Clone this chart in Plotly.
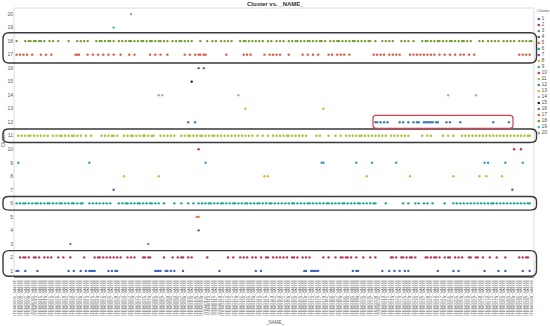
import plotly.graph_objects as go

# ---------------- data ----------------
N_NAMES = 300
names = [f"ITEM{k:04d}_VALUE" for k in range(1, N_NAMES + 1)]
clusters = list(range(1, 21))

# category positions (index into names) for every cluster
c1 = [1, 2, 6, 13, 31, 34, 38, 41, 43, 44, 45, 46, 54, 56, 58, 59, 81, 82, 83, 84, 87, 88, 90, 92, 97, 118,
      139, 142, 167, 168, 171, 172, 173, 174, 175, 195, 197, 198, 212, 216, 219, 222, 225, 227, 244, 253,
      256, 271, 279, 283, 293, 297]
c2 = [3, 5, 6, 8, 11, 12, 14, 17, 19, 21, 25, 28, 32, 40, 46, 48, 49, 51, 53, 55, 57, 59, 61, 65, 67, 69,
      74, 75, 77, 78, 86, 91, 94, 96, 97, 100, 102, 111, 123, 126, 130, 132, 134, 137, 139, 142, 145, 146,
      149, 151, 153, 155, 157, 160, 161, 163, 166, 168, 170, 178, 181, 185, 188, 189, 191, 192, 194, 197,
      201, 205, 208, 217, 218, 220, 223, 224, 226, 228, 229, 231, 237, 238, 240, 242, 243, 245, 248, 250,
      251, 254, 256, 258, 262, 263, 266, 267, 270, 274, 278, 283, 291, 293, 295, 296]
c3 = [32, 77]
c4 = [106]
c5 = [105, 106]
c6 = [1, 3, 5, 6, 8, 10, 12, 13, 15, 17, 19, 20, 22, 24, 26, 27, 29, 31, 33, 34, 36, 38, 39, 43, 45, 47,
      49, 51, 53, 55, 60, 62, 64, 65, 67, 69, 71, 72, 74, 76, 78, 79, 81, 83, 86, 92, 96, 100, 103, 106,
      108, 110, 112, 113, 115, 117, 119, 120, 122, 124, 126, 127, 129, 131, 133, 134, 136, 138, 140, 141,
      143, 145, 147, 148, 150, 152, 154, 156, 158, 160, 161, 163, 165, 167, 169, 170, 172, 174, 176, 178,
      180, 181, 183, 185, 187, 189, 190, 192, 194, 196, 198, 199, 201, 203, 205, 207, 208, 214, 224, 227,
      231, 233, 236, 238, 241, 248, 253, 255, 257, 259, 261, 263, 265, 267, 269, 271, 273, 275, 276, 278,
      280, 282, 284, 286, 288, 290, 292, 294, 296, 297]
c7 = [57, 287]
c8 = [63, 83, 144, 146, 203, 228, 253, 268, 272, 281]
c9 = [2, 43, 110, 177, 178, 197, 206, 220, 271, 273, 283, 293]
c10 = [106, 288, 292]
c11 = [2, 4, 6, 8, 9, 11, 13, 15, 17, 19, 22, 24, 26, 27, 29, 31, 33, 34, 36, 38, 41, 44, 50, 52, 54, 56,
       57, 59, 63, 65, 67, 68, 70, 72, 74, 75, 77, 79, 80, 84, 86, 88, 90, 92, 96, 98, 100, 101, 103, 105,
       107, 108, 110, 112, 114, 115, 117, 119, 121, 123, 125, 127, 129, 131, 133, 135, 137, 140, 143, 146,
       149, 151, 153, 155, 157, 158, 160, 162, 164, 166, 168, 174, 176, 181, 185, 188, 191, 193, 195, 197,
       199, 200, 202, 204, 206, 208, 210, 212, 214, 217, 219, 221, 223, 225, 227, 235, 238, 240, 247, 250,
       253, 258, 260, 262, 264, 266, 268, 270, 272, 274, 276, 278, 280, 282, 284, 286, 288, 290, 292, 294,
       296, 297]
c12 = [100, 104, 208, 209, 211, 213, 215, 222, 224, 227, 230, 232, 233, 236, 237, 238, 239, 240, 241, 243,
       244, 249, 251, 257, 276, 285]
c13 = [133, 178]
c14 = [83, 85, 129, 250, 266]
c15 = [102]
c16 = [106, 109]
c17 = [1, 3, 5, 7, 10, 15, 18, 21, 35, 36, 37, 42, 45, 48, 51, 54, 57, 61, 66, 69, 78, 81, 84, 88, 98, 101,
       104, 106, 107, 109, 110, 122, 132, 134, 136, 144, 147, 149, 151, 153, 158, 166, 169, 172, 175, 181,
       183, 186, 188, 190, 193, 207, 209, 211, 213, 216, 218, 220, 222, 228, 230, 232, 234, 236, 238, 240,
       242, 245, 248, 251, 254, 257, 259, 262, 265, 291, 293, 295, 297]
c18 = [1, 6, 8, 9, 11, 12, 14, 15, 17, 20, 22, 25, 31, 36, 38, 40, 42, 47, 49, 50, 52, 54, 55, 57, 60, 62,
       64, 66, 67, 69, 71, 73, 74, 76, 78, 79, 81, 83, 84, 86, 88, 91, 93, 95, 96, 98, 100, 102, 107, 111,
       114, 116, 119, 121, 123, 125, 130, 132, 133, 135, 137, 139, 141, 143, 146, 148, 151, 153, 155, 158,
       160, 162, 163, 165, 167, 169, 170, 172, 174, 176, 177, 179, 182, 184, 186, 187, 189, 191, 193, 195,
       196, 198, 200, 202, 204, 205, 208, 212, 214, 216, 218, 223, 225, 227, 230, 235, 237, 238, 240, 242,
       244, 245, 247, 249, 251, 252, 254, 256, 258, 259, 261, 263, 268, 270, 273, 275, 277, 279, 282, 284,
       286, 288, 291, 293, 295, 297, 298]
c19 = [57]
c20 = [67]

members = [c1, c2, c3, c4, c5, c6, c7, c8, c9, c10, c11, c12, c13, c14, c15, c16, c17, c18, c19, c20]

colors = ["#3f63c8", "#c0304a", "#5f8f7a", "#6a4c9c", "#e07b2a", "#19a68a", "#8a3fb0", "#e3b23c",
          "#3a9bc4", "#c42a6e", "#a8c22a", "#3d7fb5", "#e6b422", "#b0a8c8", "#1e1e1e", "#6b6b7b",
          "#e0553a", "#6f9a22", "#2fc2b2", "#9a9a9a"]

# ---------------- figure ----------------
W, H = 550, 326
ML, MR, MT, MB = 14, 0, 8, 49
PW = W - ML - MR
PH = H - MT - MB
XDOM = 520 / PW

fig = go.Figure()
for cl, idx, col in zip(clusters, members, colors):
    fig.add_trace(go.Scatter(
        x=[names[i] for i in idx], y=[cl] * len(idx), mode="markers",
        marker=dict(size=2.4, color=col, line=dict(width=0)),
        name=str(cl), showlegend=False, hoverinfo="x+y"))

# hand-made legend drawn on a second pair of axes
fig.add_trace(go.Scatter(
    x=[0.2] * len(clusters), y=clusters, mode="markers+text",
    text=[str(c) for c in clusters], textposition="middle right",
    textfont=dict(size=5, color="#555555", family="Liberation Sans"),
    marker=dict(size=2.6, color=colors), xaxis="x2", yaxis="y2",
    showlegend=False, hoverinfo="skip", cliponaxis=False))

def px2paper_x(px):
    return (px - ML) / PW

def px2paper_y(py):
    return (H - MB - py) / PH

fig.update_layout(
    width=W, height=H,
    margin=dict(l=ML, r=MR, t=MT, b=MB, pad=0),
    paper_bgcolor="white", plot_bgcolor="white",
    font=dict(family="Liberation Sans", color="#595959"),
    xaxis=dict(
        domain=[0, XDOM], type="category", categoryorder="array", categoryarray=names,
        range=[-0.5, N_NAMES - 0.5], tickmode="array", tickvals=names[::2], ticktext=names[::2],
        tickangle=-90, tickfont=dict(size=4.3, color="#6a6a6a"), showgrid=False, zeroline=False,
        showline=True, linecolor="#8c8c8c", linewidth=1, ticks="", automargin=False),
    yaxis=dict(
        range=[0.55, 20.45], tickmode="array", tickvals=clusters, ticktext=[str(c) for c in clusters],
        tickfont=dict(size=5, color="#595959"), showgrid=False, zeroline=False, showline=False,
        ticks="", automargin=False),
    xaxis2=dict(domain=[px2paper_x(536), 1], range=[0, 1], visible=False, fixedrange=True),
    yaxis2=dict(domain=[px2paper_y(136), px2paper_y(16)], range=[20.5, 0.5], visible=False,
                anchor="x2", fixedrange=True),
    showlegend=False,
)

annotations = [
    dict(text="<b>Cluster vs. _NAME_</b>", x=px2paper_x(275), y=px2paper_y(4), xref="paper", yref="paper",
         showarrow=False, font=dict(size=6, color="#333333"), xanchor="center", yanchor="middle"),
    dict(text="_NAME_", x=px2paper_x(275), y=px2paper_y(322), xref="paper", yref="paper",
         showarrow=False, font=dict(size=4.5, color="#595959"), xanchor="center", yanchor="middle"),
    dict(text="Cluster", x=px2paper_x(3), y=px2paper_y(140), xref="paper", yref="paper", textangle=-90,
         showarrow=False, font=dict(size=4.5, color="#595959"), xanchor="center", yanchor="middle"),
    dict(text="Cluster", x=px2paper_x(535), y=px2paper_y(10), xref="paper", yref="paper",
         showarrow=False, font=dict(size=4, color="#595959"), xanchor="left", yanchor="middle"),
]
fig.update_layout(annotations=annotations)


def rounded(x0, x1, y0, y1, rx, ry):
    return (f"M {x0 + rx},{y1} L {x1 - rx},{y1} Q {x1},{y1} {x1},{y1 - ry} "
            f"L {x1},{y0 + ry} Q {x1},{y0} {x1 - rx},{y0} L {x0 + rx},{y0} "
            f"Q {x0},{y0} {x0},{y0 + ry} L {x0},{y1 - ry} Q {x0},{y1} {x0 + rx},{y1} Z")

unit = PH / (20.45 - 0.55)
shapes = [dict(type="rect", xref="paper", yref="paper", x0=0, x1=XDOM, y0=0, y1=1,
               line=dict(color="#dcdcdc", width=1), layer="below")]
bx0, bx1 = px2paper_x(3), px2paper_x(536.5)
rx = 6 / PW
for ylo, yhi, r in [(16.38, 18.62, 6), (10.5, 11.5, 4.5), (5.5, 6.5, 4.5), (0.6, 2.5, 6)]:
    shapes.append(dict(type="path", xref="paper", yref="y",
                       path=rounded(bx0, bx1, ylo, yhi, rx, r / unit),
                       line=dict(color="#3a3a3a", width=1.4)))
shapes.append(dict(type="path", xref="paper", yref="y",
                   path=rounded(px2paper_x(373), px2paper_x(513), 11.55, 12.5, 3 / PW, 3 / unit),
                   line=dict(color="#d8404f", width=1.2)))
fig.update_layout(shapes=shapes)

fig.write_html("out.html", config={"displayModeBar": False},
               post_script="document.body.style.margin='0px';")
